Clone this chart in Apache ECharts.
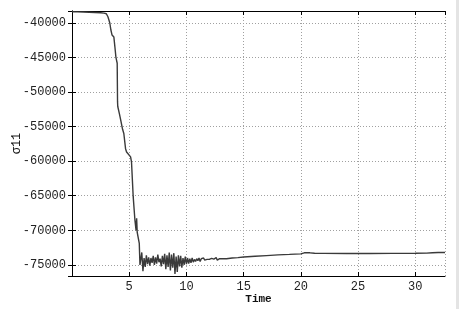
<!DOCTYPE html>
<html>
<head>
<meta charset="utf-8">
<script src="https://cdn.jsdelivr.net/npm/echarts@6/dist/echarts.min.js"></script>
<style>
html,body{margin:0;padding:0;background:#fff;}
#chart{width:461px;height:309px;}
</style>
</head>
<body>
<div id="chart"></div>
<script>
// Time values (s)
const timeValues = [
  0, 0.5, 1.0, 1.5, 2.0, 2.5, 2.8, 3.0, 3.14, 3.3, 3.4, 3.5, 3.66, 3.75, 3.84, 3.9, 3.95, 3.98, 4.0, 4.1, 4.15, 4.2, 4.25,
  4.42, 4.53, 4.68, 4.77, 4.91, 5.12, 5.2, 5.35, 5.5, 5.6, 5.65, 5.7, 5.88, 5.94,
  6.0, 6.1, 6.2, 6.3, 6.4, 6.5, 6.6, 6.7, 6.8, 6.9,
  7.0, 7.1, 7.2, 7.3, 7.4, 7.5, 7.6, 7.7, 7.8, 7.9,
  8.0, 8.1, 8.2, 8.3, 8.4, 8.5, 8.6, 8.7, 8.8, 8.9,
  9.0, 9.1, 9.2, 9.3, 9.4, 9.5, 9.6, 9.7, 9.8, 9.9,
  10.0, 10.1, 10.2, 10.3, 10.4, 10.5, 10.6, 10.7, 10.8, 10.9,
  11.0, 11.1, 11.2, 11.3, 11.4, 11.5, 11.6, 11.7, 11.8, 11.9,
  12.0, 12.2, 12.4, 12.6, 12.7, 12.8, 12.9, 13.0,
  13.5, 14.0, 14.5, 15.0, 16.0, 17.0, 18.0, 19.0, 20.0, 20.3, 20.8, 21.2, 22.0, 24.0, 26.0, 28.0, 30.0, 31.0, 31.5, 32.0, 32.6
];
// sigma11 values
const sigmaValues = [
  -38400, -38420, -38450, -38480, -38520, -38560, -38600, -38700, -39130, -40000, -41050, -41780, -42070, -43500, -45000, -45150, -45850, -51400, -52100, -52300, -53200, -53600, -54000,
  -55400, -56000, -58200, -58670, -58860, -59390, -60100, -65170, -68540, -70000, -68250, -70300, -71900, -75000,
  -75000, -73200, -75900, -74000, -75300, -73600, -74900, -73900, -75100, -74000,
  -74700, -73700, -75000, -73900, -74800, -73500, -74600, -74100, -75200, -73700,
  -74900, -73400, -75600, -73600, -75300, -73200, -75800, -73500, -75400, -73300,
  -76300, -73800, -76000, -73600, -75200, -73700, -75400, -74000, -75000, -73800,
  -74900, -74000, -74800, -74100, -74700, -74000, -74600, -74200, -74500, -74100,
  -74400, -74000, -74500, -74100, -74300, -74000, -74300, -74100, -74200, -73950,
  -74200, -74050, -74150, -73950, -74300, -74550, -74100, -74200,
  -74100, -74000, -73950, -73850, -73750, -73650, -73550, -73480, -73400, -73250, -73250, -73320, -73330, -73340, -73340, -73330, -73320, -73300, -73230, -73200, -73200
];
const xAxisTitle = 'Time';
const yAxisTitle = 'σ11';

const seriesData = timeValues.map((t, i) => [t, sigmaValues[i]]);
const FONT = '"Liberation Mono", "DejaVu Sans Mono", monospace';
const X_MIN = 0, X_MAX = 32.6, Y_MIN = -76600, Y_MAX = -38300;

const chart = echarts.init(document.getElementById('chart'), null, {renderer: 'canvas'});
const gridLine = {show: true, lineStyle: {color: '#a0a0a0', type: [1, 2], width: 1}};
const frameLine = {show: true, lineStyle: {color: '#000', width: 1}};
const inTick = {show: true, inside: true, length: 4, lineStyle: {color: '#000'}};

chart.setOption({
  animation: false,
  backgroundColor: '#fff',
  grid: {left: 72, right: 16, top: 11, bottom: 33, containLabel: false, outerBoundsMode: 'none'},
  graphic: [{
    type: 'rect', shape: {x: 456, y: 0, width: 3, height: 309},
    style: {fill: '#e4e4e4'}, silent: true
  }],
  xAxis: [{
    type: 'value', min: X_MIN, max: X_MAX, interval: 5, position: 'bottom',
    axisLine: frameLine, axisTick: inTick, splitLine: gridLine,
    axisLabel: {fontFamily: FONT, fontSize: 12, color: '#222', margin: 5, showMinLabel: false, showMaxLabel: false},
    name: xAxisTitle, nameLocation: 'middle', nameGap: 18, nameMoveOverlap: false,
    nameTextStyle: {fontFamily: FONT, fontSize: 11, color: '#111', fontWeight: 'bold'}
  }, {
    type: 'value', min: X_MIN, max: X_MAX, interval: 5, position: 'top',
    axisLine: frameLine, axisTick: inTick, splitLine: {show: false}, axisLabel: {show: false}
  }],
  yAxis: [{
    type: 'value', min: Y_MIN, max: Y_MAX, splitNumber: 8, position: 'left',
    axisLine: frameLine, axisTick: inTick, splitLine: gridLine,
    axisLabel: {fontFamily: FONT, fontSize: 12, color: '#222', margin: 6,
      showMinLabel: false, showMaxLabel: false, formatter: v => String(v)},
    name: yAxisTitle, nameLocation: 'middle', nameGap: 49, nameRotate: 90, nameMoveOverlap: false,
    nameTextStyle: {fontFamily: FONT, fontSize: 12, color: '#111'}
  }, {
    type: 'value', min: Y_MIN, max: Y_MAX, splitNumber: 8, position: 'right',
    axisLine: frameLine, axisTick: inTick, splitLine: {show: false}, axisLabel: {show: false}
  }],
  series: [{
    type: 'line', data: seriesData, xAxisIndex: 0, yAxisIndex: 0,
    showSymbol: false, symbol: 'none',
    lineStyle: {color: '#3a3a3a', width: 1.4}
  }]
});
</script>
</body>
</html>
